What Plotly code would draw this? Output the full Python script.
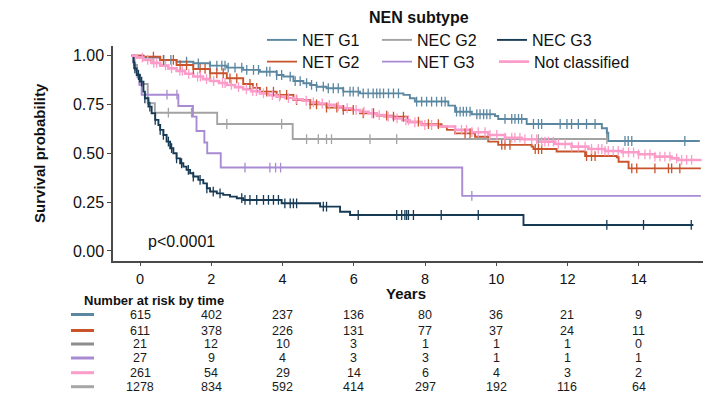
import numpy as np
import plotly.graph_objects as go

W, H = 705, 394
FONT = "Liberation Sans, Arial, sans-serif"

# ---------------- data ----------------
series_names = ["NET G1", "NET G2", "NEC G2", "NET G3", "NEC G3", "Not classified"]
series_colors = ["#5b87a1", "#c9542c", "#a3a3a3", "#a88bd3", "#173a55", "#fb9cc9"]

net_g1_t = [0, 0.33, 0.8, 1.26, 1.73, 2.2, 2.67, 3.13, 3.6, 4.07, 4.26, 4.54, 4.82, 5.01, 5.19,
            5.47, 5.94, 6.41, 7.63, 7.81, 7.95, 8.89, 9.08, 9.55, 10.2, 10.29, 11.09, 13.2,
            13.34, 13.38, 15.95]
net_g1_s = [1.0, 0.99, 0.978, 0.969, 0.961, 0.949, 0.939, 0.927, 0.918, 0.901, 0.893, 0.87,
            0.859, 0.85, 0.841, 0.833, 0.816, 0.807, 0.799, 0.782, 0.765, 0.744, 0.713, 0.70,
            0.691, 0.676, 0.65, 0.628, 0.606, 0.563, 0.563]
net_g1_cens = [0.9, 1.1, 1.54, 1.87, 2.2, 2.39, 2.53, 2.62, 2.71, 2.9, 3.09, 3.23, 3.42, 3.56,
               3.79, 3.88, 4.07, 4.21, 4.45, 4.59, 4.73, 4.91, 5.05, 5.19, 5.38, 5.52, 5.66,
               5.8, 5.94, 6.13, 6.22, 6.36, 6.5, 6.64, 6.78, 6.88, 6.97, 7.07, 7.21, 7.35,
               7.49, 8.0, 8.14, 8.28, 8.42, 8.56, 8.7, 8.8, 9.12, 9.22, 9.31, 9.4, 9.5, 9.69,
               9.78, 9.88, 9.97, 10.06, 10.48, 10.67, 10.76, 10.86, 10.95, 11.28, 11.42, 11.51,
               12.03, 12.22, 12.35, 12.54, 12.77, 13.01, 13.34, 13.85, 13.94, 14.04, 15.53]

net_g2_t = [0, 0.33, 0.8, 1.26, 1.73, 2.2, 2.67, 3.13, 3.4, 3.6, 4.07, 4.54, 5.01, 5.47, 5.94,
            6.41, 6.88, 7.35, 7.75, 8.14, 8.7, 8.85, 9.08, 9.64, 10.01, 10.29, 11.23, 11.28,
            11.93, 12.73, 13.62, 13.67, 13.95, 15.98]
net_g2_s = [1.0, 0.995, 0.978, 0.952, 0.932, 0.91, 0.884, 0.855, 0.835, 0.816, 0.799, 0.773,
            0.751, 0.734, 0.722, 0.705, 0.693, 0.688, 0.662, 0.649, 0.637, 0.62, 0.602, 0.585,
            0.56, 0.543, 0.534, 0.522, 0.509, 0.486, 0.48, 0.457, 0.423, 0.423]
net_g2_cens = [0.61, 0.89, 1.17, 1.36, 1.54, 1.73, 1.92, 2.06, 2.2, 2.39, 2.57, 2.76, 2.95,
               3.32, 3.51, 3.79, 3.98, 4.16, 4.35, 4.63, 5.01, 5.19, 5.47, 5.76, 5.94, 6.22,
               6.5, 6.79, 7.16, 7.35, 7.63, 8.05, 8.33, 8.61, 9.36, 9.5, 10.39, 10.48, 10.62,
               11.33, 11.42, 11.51, 12.77, 12.91, 13.01, 14.04, 14.18, 14.69, 15.07, 15.16, 15.39]

nec_g2_t = [0, 0.08, 0.15, 0.22, 0.45, 0.65, 2.4, 4.52, 13.34]
nec_g2_s = [1.0, 0.952, 0.905, 0.855, 0.756, 0.708, 0.65, 0.573, 0.573]
nec_g2_cens = [1.03, 1.68, 2.67, 4.21, 4.91, 5.24, 5.47, 5.61, 6.69, 7.44, 11.42, 13.34]

net_g3_t = [0, 0.05, 0.1, 0.16, 0.22, 0.28, 1.31, 1.72, 1.82, 2.04, 2.12, 2.5, 9.28, 15.98]
net_g3_s = [1.0, 0.963, 0.926, 0.889, 0.85, 0.80, 0.742, 0.688, 0.614, 0.555, 0.50, 0.427,
            0.282, 0.282]
net_g3_cens = [0.99, 1.27, 3.18, 3.88, 4.04, 4.18, 9.55]

nec_g3_t = [0, 0.05, 0.07, 0.14, 0.23, 0.33, 0.37, 0.47, 0.56, 0.66, 0.75, 0.8, 0.89, 0.98,
            1.08, 1.17, 1.26, 1.36, 1.45, 1.54, 1.64, 1.73, 1.87, 2.01, 2.11, 2.2, 2.39, 2.57,
            2.76, 2.95, 3.13, 4.21, 5.29, 5.85, 6.13, 11.0, 15.77]
nec_g3_s = [1.0, 0.969, 0.935, 0.901, 0.867, 0.816, 0.782, 0.739, 0.705, 0.671, 0.645, 0.62,
            0.594, 0.56, 0.526, 0.5, 0.474, 0.449, 0.432, 0.415, 0.398, 0.381, 0.364, 0.346,
            0.321, 0.304, 0.295, 0.287, 0.278, 0.27, 0.261, 0.244, 0.227, 0.201, 0.184, 0.133,
            0.133]
nec_g3_cens = [0.09, 0.19, 0.28, 0.37, 0.51, 0.66, 0.8, 0.89, 1.03, 1.12, 1.26, 1.4, 1.59,
               1.73, 1.92, 2.11, 2.29, 2.48, 3.09, 3.18, 3.32, 3.51, 3.7, 3.84, 3.98, 4.12,
               4.3, 4.45, 4.54, 4.63, 5.38, 5.47, 6.36, 7.44, 7.58, 7.67, 7.72, 7.77, 7.91,
               8.69, 9.73, 13.34, 14.37, 15.71]

notcl_t = [0, 0.15, 0.33, 0.55, 0.8, 1.03, 1.26, 1.5, 1.73, 2.0, 2.2, 2.45, 2.67, 2.9, 3.13,
           3.35, 3.6, 3.85, 4.07, 4.3, 4.54, 4.8, 5.01, 5.25, 5.47, 5.7, 5.94, 6.2, 6.41, 6.65,
           6.88, 7.1, 7.35, 7.6, 7.81, 8.14, 8.61, 9.08, 9.55, 10.01, 10.48, 10.95, 11.42,
           11.89, 12.35, 12.82, 13.29, 13.76, 14.23, 14.69, 15.16, 15.35, 16.0]
notcl_s = [1.0, 0.99, 0.978, 0.963, 0.949, 0.935, 0.922, 0.907, 0.893, 0.88, 0.87, 0.86,
           0.85, 0.839, 0.828, 0.818, 0.807, 0.798, 0.79, 0.783, 0.777, 0.769, 0.761, 0.755,
           0.748, 0.74, 0.731, 0.722, 0.713, 0.705, 0.696, 0.688, 0.679, 0.669, 0.659, 0.645,
           0.637, 0.62, 0.608, 0.594, 0.58, 0.572, 0.56, 0.548, 0.534, 0.522, 0.512, 0.505,
           0.495, 0.483, 0.474, 0.466, 0.466]
notcl_cens = [0.3, 0.45, 0.62, 0.7, 0.95, 1.12, 1.35, 1.42, 1.6, 1.85, 1.93, 2.1, 2.3, 2.55,
              2.62, 2.8, 3.0, 3.22, 3.4, 3.5, 3.7, 3.95, 4.15, 4.4, 4.62, 4.9, 5.1, 5.35,
              5.55, 5.8, 6.05, 6.3, 6.52, 6.75, 6.95, 7.2, 7.45, 7.7, 7.77, 7.95, 8.23, 8.42,
              9.08, 9.26, 9.4, 9.55, 9.73, 9.92, 10.06, 10.25, 10.48, 10.67, 10.76, 10.9,
              11.04, 11.23, 11.37, 11.51, 11.6, 11.7, 11.84, 11.98, 12.17, 12.35, 12.54, 12.73,
              12.91, 13.1, 13.2, 13.29, 13.38, 13.52, 13.66, 13.8, 13.95, 14.09, 14.23, 14.41,
              14.55, 14.69, 14.83, 14.97, 15.11, 15.3, 15.44, 15.58, 15.72]

series_t = [net_g1_t, net_g2_t, nec_g2_t, net_g3_t, nec_g3_t, notcl_t]
series_s = [net_g1_s, net_g2_s, nec_g2_s, net_g3_s, nec_g3_s, notcl_s]
series_c = [net_g1_cens, net_g2_cens, nec_g2_cens, net_g3_cens, nec_g3_cens, notcl_cens]

# number-at-risk table (as printed in the reference)
risk_times = [0, 2, 4, 6, 8, 10, 12, 14]
risk_rows = [
    [615, 402, 237, 136, 80, 36, 21, 9],
    [611, 378, 226, 131, 77, 37, 24, 11],
    [21, 12, 10, 3, 1, 1, 1, 0],
    [27, 9, 4, 3, 3, 1, 1, 1],
    [261, 54, 29, 14, 6, 4, 3, 2],
    [1278, 834, 592, 414, 297, 192, 116, 64],
]
risk_colors = ["#5b87a1", "#c9542c", "#8c8c8c", "#a88bd3", "#fb9cc9", "#a6a6a6"]

x_ticks = [0, 2, 4, 6, 8, 10, 12, 14]
y_ticks = [0, 0.25, 0.5, 0.75, 1.0]
TICK_OFFSET = 0.235   # tick labels in the reference sit slightly right of curve origin

# legend layout (ggplot legend filled column-wise -> two rows of three)
legend_of = {"NET G1": "legend", "NEC G2": "legend", "NEC G3": "legend",
             "NET G2": "legend2", "NET G3": "legend2", "Not classified": "legend3"}

# ---------------- figure ----------------
def px_x(p):
    return p / W

def px_y(p):
    return 1 - p / H

fig = go.Figure()

for name, col, t, s in zip(series_names, series_colors, series_t, series_s):
    fig.add_trace(go.Scatter(
        x=t, y=s, mode="lines", name=name, legend=legend_of[name],
        line=dict(color=col, width=2.6 if name == "Not classified" else 1.9, shape="hv"),
        legendgroup=name, showlegend=True, hoverinfo="skip"))

for name, col, t, s, c in zip(series_names, series_colors, series_t, series_s, series_c):
    t_arr = np.asarray(t)
    s_arr = np.asarray(s)
    idx = np.searchsorted(t_arr, np.asarray(c), side="right") - 1
    fig.add_trace(go.Scatter(
        x=c, y=s_arr[idx], mode="markers", showlegend=False, legendgroup=name,
        marker=dict(symbol="line-ns", size=7, line=dict(color=col, width=1.3)),
        hoverinfo="skip"))

axis_col = "#4a4a4a"
leg_common = dict(orientation="h", xanchor="left", yanchor="middle",
                  bgcolor="rgba(0,0,0,0)", font=dict(size=16, family=FONT),
                  traceorder="normal")
fig.update_layout(
    width=W, height=H,
    margin=dict(l=0, r=0, t=0, b=0, autoexpand=False),
    paper_bgcolor="white", plot_bgcolor="white",
    font=dict(family=FONT, color="#111111"),
    xaxis=dict(
        domain=[px_x(113), px_x(703)], range=[-0.525, 16.04],
        showline=True, linecolor=axis_col, linewidth=1.5, automargin=False,
        ticks="outside", ticklen=4, tickwidth=1.3, tickcolor=axis_col,
        tickvals=[v + TICK_OFFSET for v in x_ticks], ticktext=[str(v) for v in x_ticks],
        tickfont=dict(size=14.5, family=FONT, color="#111"),
        showgrid=False, zeroline=False,
    ),
    yaxis=dict(
        domain=[px_y(260.7), px_y(45.9)], range=[-0.05, 1.05],
        showline=True, linecolor=axis_col, linewidth=1.5, automargin=False,
        ticks="outside", ticklen=4, tickwidth=1.3, tickcolor=axis_col,
        tickvals=y_ticks, ticktext=[f"{v:.2f}" for v in y_ticks],
        tickfont=dict(size=16, family=FONT, color="#111"),
        showgrid=False, zeroline=False,
        title=dict(text="Survival probability", font=dict(size=15, family=FONT, weight="bold"),
                   standoff=24),
    ),
    legend=dict(x=px_x(262), y=px_y(40), entrywidth=70, entrywidthmode="pixels",
                **leg_common),
    legend2=dict(x=px_x(262), y=px_y(61.7), entrywidth=70, entrywidthmode="pixels",
                 **leg_common),
    legend3=dict(x=px_x(494), y=px_y(61.7), **leg_common),
)

# x axis title
fig.add_annotation(text="<b>Years</b>", x=px_x(406), y=px_y(293.5), xref="paper",
                   yref="paper", showarrow=False, font=dict(size=15, family=FONT),
                   xanchor="center", yanchor="middle")

# legend title
fig.add_annotation(text="<b>NEN subtype</b>", x=px_x(419), y=px_y(17.7), xref="paper",
                   yref="paper", showarrow=False, font=dict(size=16, family=FONT),
                   xanchor="center", yanchor="middle")

# p-value
fig.add_annotation(text="p<0.0001", x=px_x(146), y=px_y(241.7), xref="paper", yref="paper",
                   showarrow=False, font=dict(size=16, family=FONT), xanchor="left",
                   yanchor="middle")

# risk table
fig.add_annotation(text="<b>Number at risk by time</b>", x=px_x(82), y=px_y(300),
                   xref="paper", yref="paper", showarrow=False,
                   font=dict(size=13, family=FONT), xanchor="left", yanchor="middle")
row_y = [314.5, 330.5, 344, 358, 372.7, 386.7]
for row, col, yy in zip(risk_rows, risk_colors, row_y):
    fig.add_shape(type="line", xref="paper", yref="paper", x0=px_x(71), x1=px_x(94),
                  y0=px_y(yy), y1=px_y(yy), line=dict(color=col, width=3))
    for tt, v in zip(risk_times, row):
        fig.add_annotation(text=str(v), x=tt + TICK_OFFSET, xref="x", y=px_y(yy),
                           yref="paper", showarrow=False,
                           font=dict(size=12.5, family=FONT, color="#1a1a1a"),
                           xanchor="center", yanchor="middle")

fig.write_html("out.html")
